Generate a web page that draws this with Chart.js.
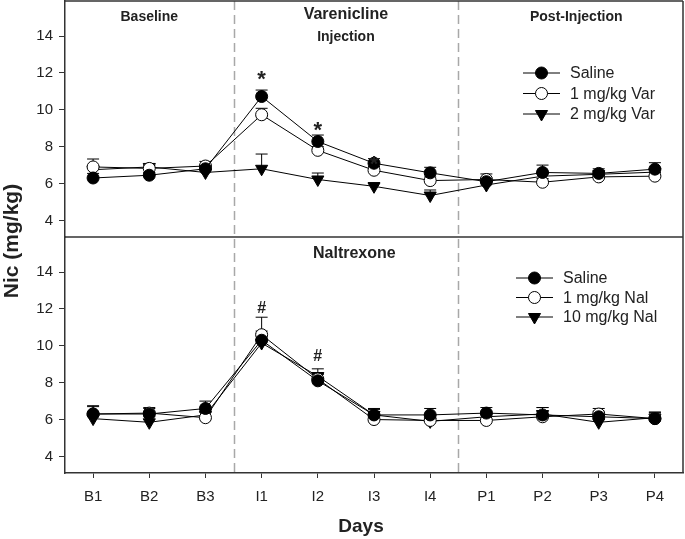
<!DOCTYPE html>
<html>
<head>
<meta charset="utf-8">
<script src="https://cdn.jsdelivr.net/npm/chart.js@4.4.1/dist/chart.umd.min.js"></script>
<style>
html,body{margin:0;padding:0;background:#fff;}
#wrap{position:relative;width:685px;height:539px;}
</style>
</head>
<body>
<div id="wrap"><canvas id="c" width="685" height="539"></canvas></div>
<script>
// ---- data ----
const days = ['B1','B2','B3','I1','I2','I3','I4','P1','P2','P3','P4'];
const yTicks = [4, 6, 8, 10, 12, 14];

// Top panel: Varenicline
const varSaline    = [6.30, 6.45, 6.80, 10.72, 8.28, 7.10, 6.58, 6.10, 6.60, 6.55, 6.78];
const varSalineErr = [0.25, 0.15, 0.20, 0.35, 0.35, 0.25, 0.30, 0.20, 0.40, 0.25, 0.35];
const var1         = [6.90, 6.82, 6.95, 9.73, 7.80, 6.72, 6.16, 6.22, 6.07, 6.36, 6.40];
const var1Err      = [0.43, 0.15, 0.25, 0.35, 0.20, 0.20, 0.20, 0.30, 0.20, 0.20, 0.20];
const var2         = [6.75, 6.90, 6.60, 6.80, 6.22, 5.85, 5.35, 5.92, 6.40, 6.50, 6.62];
const var2Err      = [0.20, 0.15, 0.20, 0.80, 0.35, 0.20, 0.30, 0.20, 0.20, 0.20, 0.20];

// Bottom panel: Naltrexone
const nalSaline    = [6.30, 6.30, 6.60, 10.30, 8.10, 6.25, 6.25, 6.35, 6.25, 6.15, 6.05];
const nalSalineErr = [0.40, 0.30, 0.40, 0.50, 0.35, 0.35, 0.35, 0.30, 0.40, 0.30, 0.30];
const nal1         = [6.30, 6.35, 6.10, 10.60, 8.20, 6.00, 5.95, 5.95, 6.15, 6.30, 6.05];
const nal1Err      = [0.45, 0.30, 0.30, 0.95, 0.35, 0.30, 0.30, 0.30, 0.30, 0.30, 0.35];
const nal10        = [6.05, 5.85, 6.25, 10.15, 8.35, 6.25, 5.90, 6.15, 6.30, 5.85, 6.10];
const nal10Err     = [0.30, 0.30, 0.30, 0.50, 0.40, 0.30, 0.35, 0.30, 0.35, 0.40, 0.30];

const topLabels = ['Saline', '1 mg/kg Var', '2 mg/kg Var'];
const botLabels = ['Saline', '1 mg/kg Nal', '10 mg/kg Nal'];

// significance marks: [dayIndex, value position, symbol]
const topMarks = [[3, 11.9, '*'], [4, 9.1, '*'], [5, 7.3, '*']];
const botMarks = [[3, 12.0, '#'], [4, 9.4, '#']];

// ---- helpers ----
const FONT = '"Liberation Sans", Arial, sans-serif';
const INK = '#222';
const AXIS = '#333';

function pts(arr){ return arr.map((v,i)=>({x:i, y:v})); }

const styles = [
  {pointStyle:'circle', bg:'#000', radius:6, rot:0},
  {pointStyle:'circle', bg:'#fff', radius:6, rot:0},
  {pointStyle:'triangle', bg:'#000', radius:7, rot:180}
];

function ds(label, arr, err, axis, k){
  const s = styles[k];
  return {
    label, data: pts(arr), errors: err, yAxisID: axis, legendGroup: axis,
    borderColor:'#000', borderWidth:1, backgroundColor:s.bg,
    pointStyle:s.pointStyle, pointRadius:s.radius, pointRotation:s.rot,
    pointBackgroundColor:s.bg, pointBorderColor:'#000', pointBorderWidth:1,
    pointHoverRadius:s.radius, tension:0, fill:false
  };
}

const datasets = [
  ds(topLabels[0], varSaline, varSalineErr, 'yTop', 0),
  ds(topLabels[1], var1, var1Err, 'yTop', 1),
  ds(topLabels[2], var2, var2Err, 'yTop', 2),
  ds(botLabels[0], nalSaline, nalSalineErr, 'yBot', 0),
  ds(botLabels[1], nal1, nal1Err, 'yBot', 1),
  ds(botLabels[2], nal10, nal10Err, 'yBot', 2)
];

const yAxis = (weight) => ({
  type:'linear', position:'left', stack:'panels', stackWeight:1, weight,
  min:3.1, max:15.9,
  afterBuildTicks: s => { s.ticks = yTicks.map(v=>({value:v})); },
  afterFit: s => { s.width = 65; s.paddingTop = 0; s.paddingBottom = 0; },
  grid:{drawOnChartArea:false, drawTicks:true, tickLength:6, color:AXIS, lineWidth:1},
  border:{display:true, color:AXIS, width:1.5},
  ticks:{font:{family:FONT, size:15}, color:INK, padding:6}
});

const framePlugin = {
  id:'frame',
  beforeDatasetsDraw(chart){
    const {ctx, chartArea:a, scales} = chart;
    ctx.save();
    // dashed phase separators
    ctx.strokeStyle = '#a8a8a8'; ctx.lineWidth = 1.5; ctx.setLineDash([9,5]);
    [2.5, 6.5].forEach(v=>{
      const x = Math.round(scales.x.getPixelForValue(v)) + 0.5;
      ctx.beginPath(); ctx.moveTo(x, a.top); ctx.lineTo(x, a.bottom); ctx.stroke();
    });
    ctx.setLineDash([]);
    // frame
    ctx.strokeStyle = AXIS; ctx.lineWidth = 1.5;
    const mid = scales.yTop.bottom;
    ctx.beginPath();
    ctx.moveTo(a.left, a.top); ctx.lineTo(a.right, a.top);
    ctx.moveTo(a.right, a.top); ctx.lineTo(a.right, a.bottom);
    ctx.moveTo(a.left, mid); ctx.lineTo(a.right, mid);
    ctx.stroke();
    // error bars (upper only)
    ctx.strokeStyle = '#000'; ctx.lineWidth = 1;
    chart.data.datasets.forEach(d=>{
      const ys = scales[d.yAxisID];
      d.data.forEach((p,i)=>{
        const x = scales.x.getPixelForValue(p.x);
        const y0 = ys.getPixelForValue(p.y);
        const y1 = ys.getPixelForValue(p.y + d.errors[i]);
        ctx.beginPath();
        ctx.moveTo(x, y0); ctx.lineTo(x, y1);
        ctx.moveTo(x-6, y1); ctx.lineTo(x+6, y1);
        ctx.stroke();
      });
    });
    ctx.restore();
  },
  afterDraw(chart){
    const {ctx, chartArea:a, scales} = chart;
    const X = v => scales.x.getPixelForValue(v);
    ctx.save();
    ctx.fillStyle = INK; ctx.textAlign = 'center'; ctx.textBaseline = 'middle';
    // panel labels
    const yt = scales.yTop, yb = scales.yBot;
    ctx.font = 'bold 14px ' + FONT;
    ctx.fillText('Baseline', X(1), yt.top + 16);
    ctx.fillText('Injection', X(4.5), yt.top + 36);
    ctx.fillText('Post-Injection', X(8.6), yt.top + 16);
    ctx.font = 'bold 16px ' + FONT;
    ctx.fillText('Varenicline', X(4.5), yt.top + 14);
    ctx.fillText('Naltrexone', X(4.65), yb.top + 17);
    // significance marks
    ctx.font = 'bold 22px ' + FONT;
    topMarks.forEach(([i,v,s])=>{ ctx.fillText(s, X(i), yt.getPixelForValue(v) + 5); });
    ctx.font = 'bold 16px ' + FONT;
    botMarks.forEach(([i,v,s])=>{ ctx.fillText(s, X(i), yb.getPixelForValue(v)); });
    // axis titles
    ctx.font = 'bold 19px ' + FONT;
    ctx.fillText('Days', (a.left + a.right)/2 - 13, 527);
    ctx.save();
    ctx.translate(12, 241); ctx.rotate(-Math.PI/2);
    ctx.font = 'bold 21px ' + FONT;
    ctx.fillText('Nic (mg/kg)', 0, 0);
    ctx.restore();
    // legends
    const legend = (group, lx, ly0, dy) => {
      const list = chart.data.datasets.filter(d=>d.legendGroup===group);
      list.forEach((d,k)=>{
        const y = ly0 + k*dy;
        ctx.strokeStyle = '#000'; ctx.lineWidth = 1;
        ctx.beginPath(); ctx.moveTo(lx, y); ctx.lineTo(lx+37, y); ctx.stroke();
        ctx.fillStyle = d.pointBackgroundColor; ctx.strokeStyle = '#000';
        Chart.helpers.drawPoint(ctx, {pointStyle:d.pointStyle, radius:d.pointRadius, rotation:d.pointRotation, borderWidth:1}, lx+18.5, y);
        ctx.fillStyle = INK; ctx.textAlign = 'left';
        ctx.font = '16px ' + FONT;
        ctx.fillText(d.label, lx + 47, y + 1);
      });
    };
    legend('yTop', 523, yt.top + 72, 20.5);
    legend('yBot', 516, yb.top + 41, 19.5);
    ctx.restore();
  }
};

new Chart(document.getElementById('c'), {
  type:'line',
  data:{datasets},
  options:{
    responsive:false, animation:false, events:[],
    layout:{autoPadding:false, padding:{top:1, right:2, left:0, bottom:0}},
    plugins:{legend:{display:false}, tooltip:{enabled:false}},
    scales:{
      x:{
        type:'linear', min:-0.5, max:10.5,
        afterBuildTicks: s => { s.ticks = days.map((d,i)=>({value:i})); },
        afterFit: s => { s.height = 66; s.paddingLeft = 0; s.paddingRight = 0; s.paddingTop = 0; s.paddingBottom = 0; },
        grid:{drawOnChartArea:false, drawTicks:true, tickLength:5, color:AXIS},
        border:{display:true, color:AXIS, width:1.5},
        ticks:{font:{family:FONT, size:15}, color:INK, padding:10, maxRotation:0,
               callback:(v)=>days[v]}
      },
      yTop: yAxis(2),
      yBot: yAxis(1)
    }
  },
  plugins:[framePlugin]
});
</script>
</body>
</html>
